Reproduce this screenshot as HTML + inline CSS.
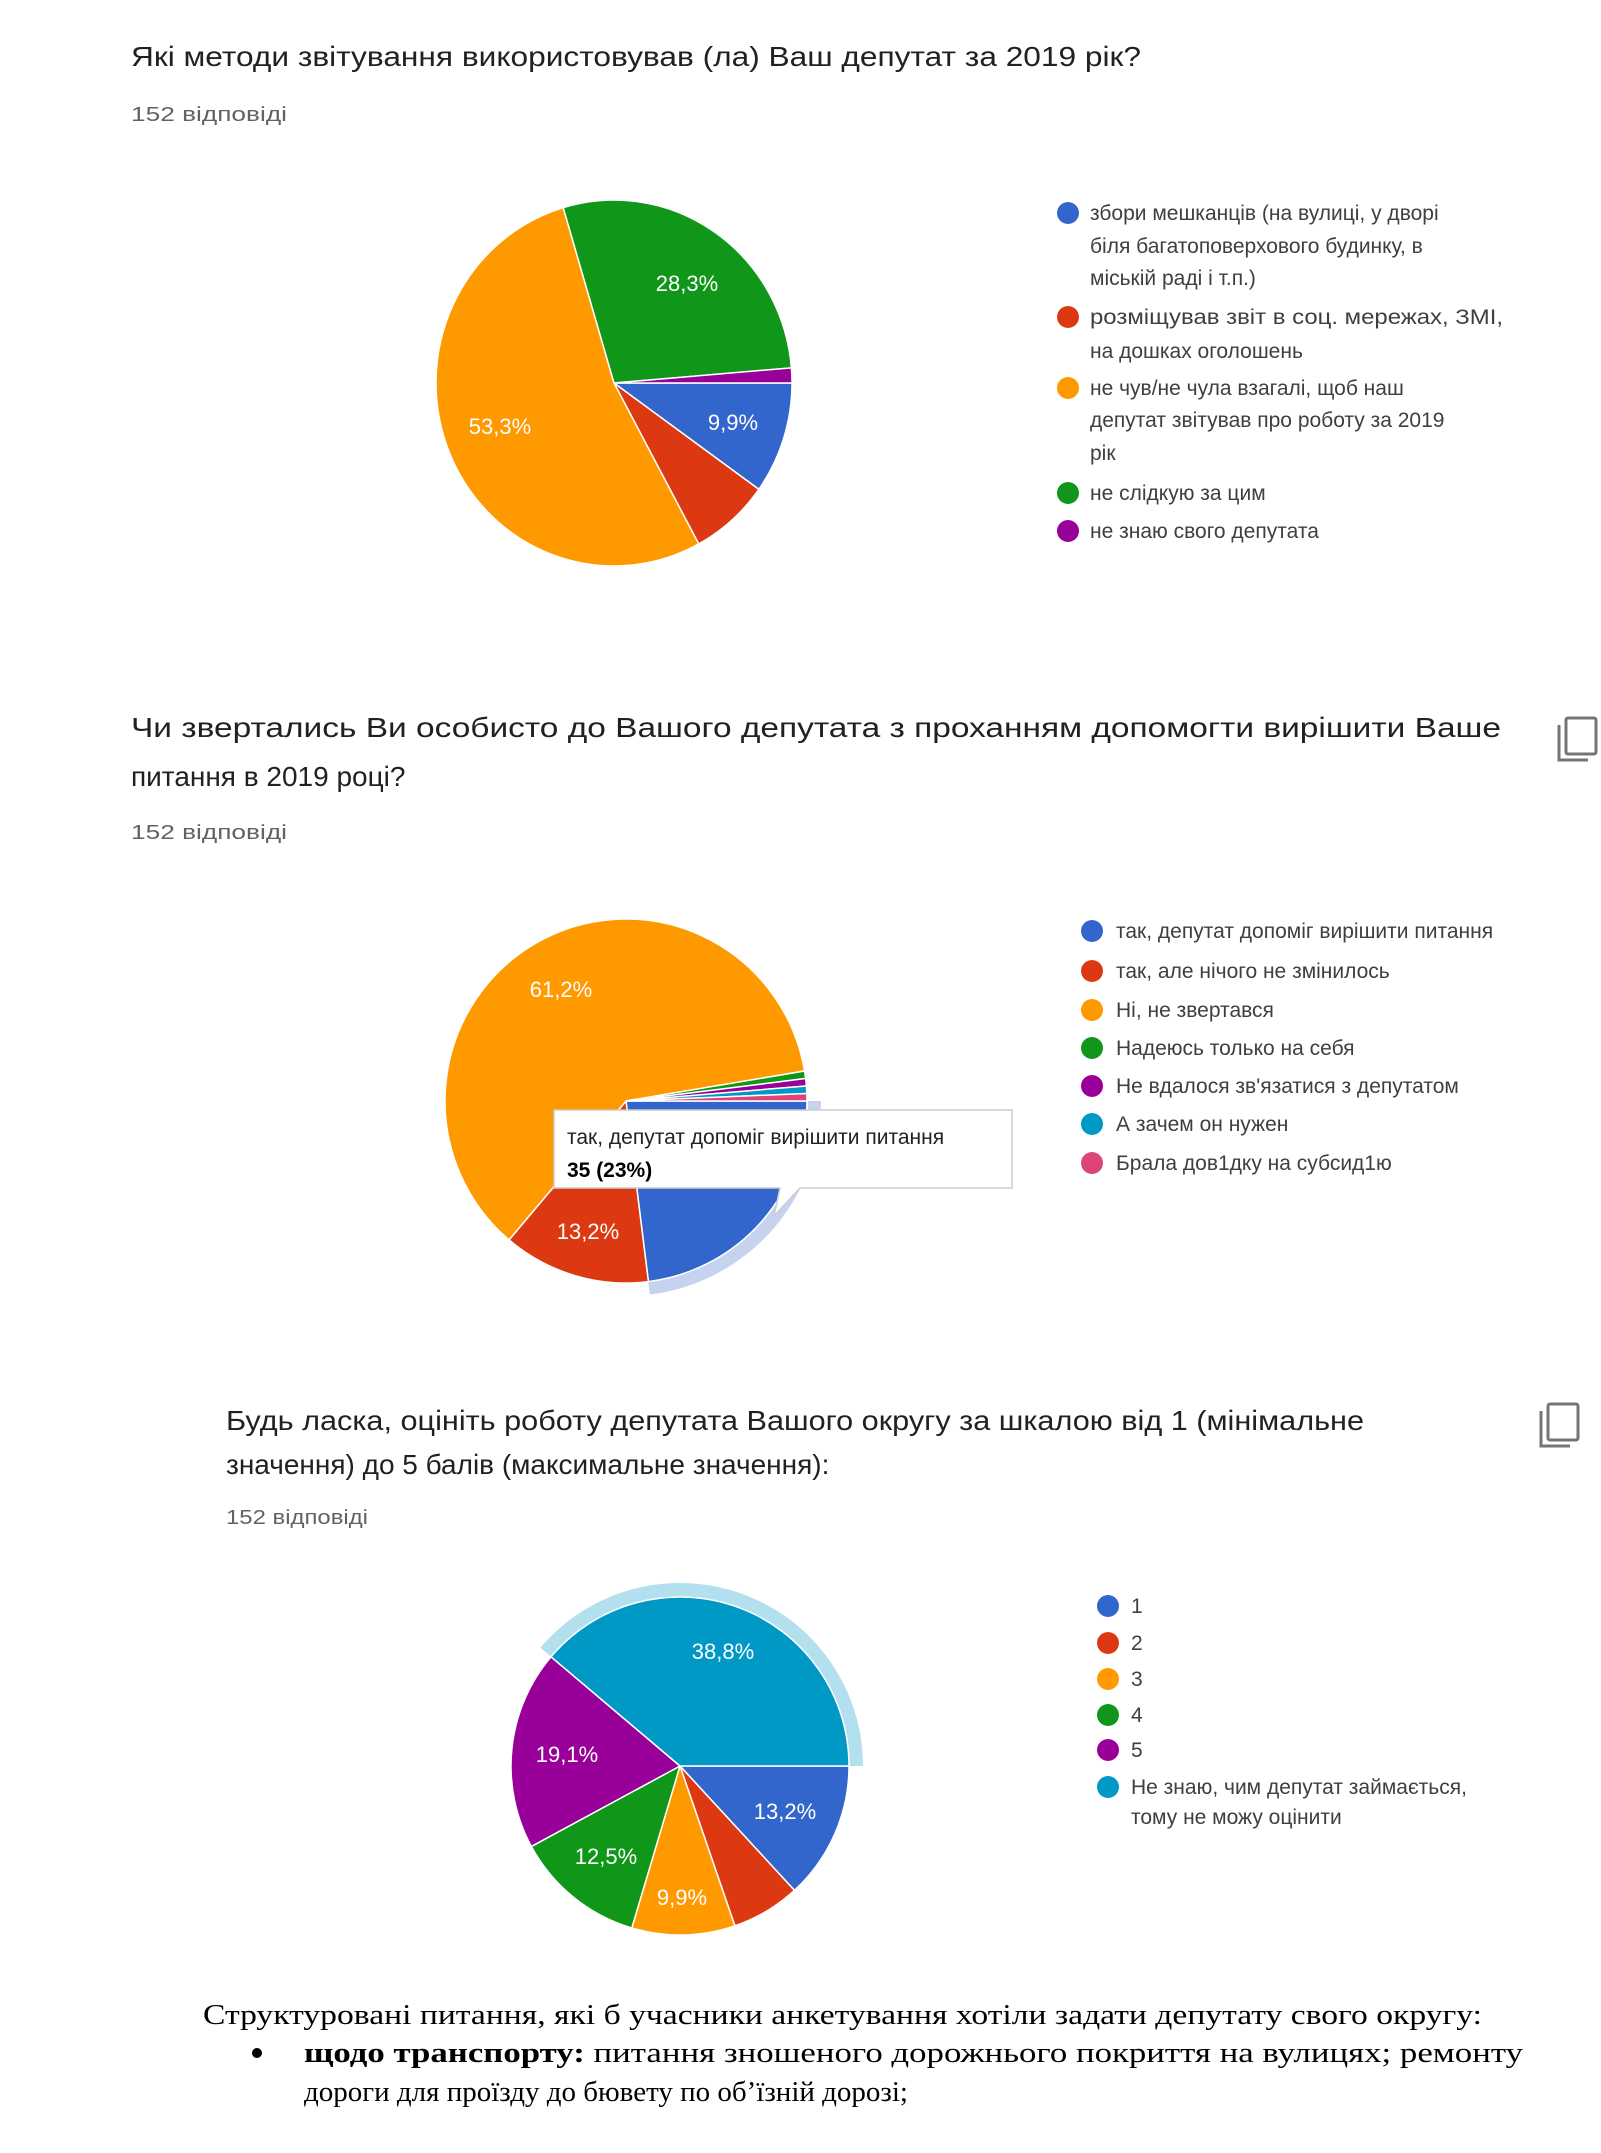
<!DOCTYPE html>
<html><head><meta charset="utf-8">
<style>
html,body{margin:0;padding:0;background:#fff;}
svg{display:block;font-family:"Liberation Sans",Arial,sans-serif;}
.t{font-size:28px;fill:#202124;}
.s{font-size:20px;fill:#5f6368;}
.l{font-size:21px;fill:#3c4043;}
.p{font-size:22px;fill:#fff;}
.r{font-family:"Liberation Serif","Times New Roman",serif;font-size:29px;fill:#000;}
</style></head>
<body>
<svg id="c" width="1601" height="2153" viewBox="0 0 1601 2153" xmlns="http://www.w3.org/2000/svg">
<rect width="1601" height="2153" fill="#fff"/>
<g id="pies"></g>

<!-- Chart 1 -->
<text class="t" x="131" y="66" textLength="1010" lengthAdjust="spacingAndGlyphs">Які методи звітування використовував (ла) Ваш депутат за 2019 рік?</text>
<text class="s" x="131" y="121" textLength="156" lengthAdjust="spacingAndGlyphs">152 відповіді</text>
<text class="p" x="687" y="291" text-anchor="middle">28,3%</text>
<text class="p" x="500" y="434" text-anchor="middle">53,3%</text>
<text class="p" x="733" y="430" text-anchor="middle">9,9%</text>
<circle cx="1068" cy="213" r="11" fill="#3366cc"/>
<circle cx="1068" cy="317" r="11" fill="#dc3912"/>
<circle cx="1068" cy="388" r="11" fill="#ff9900"/>
<circle cx="1068" cy="493" r="11" fill="#109618"/>
<circle cx="1068" cy="531" r="11" fill="#990099"/>
<text class="l" x="1090" y="220">збори мешканців (на вулиці, у дворі</text>
<text class="l" x="1090" y="253">біля багатоповерхового будинку, в</text>
<text class="l" x="1090" y="285">міській раді і т.п.)</text>
<text class="l" x="1090" y="324" textLength="413" lengthAdjust="spacingAndGlyphs">розміщував звіт в соц. мережах, ЗМІ,</text>
<text class="l" x="1090" y="358">на дошках оголошень</text>
<text class="l" x="1090" y="395">не чув/не чула взагалі, щоб наш</text>
<text class="l" x="1090" y="427">депутат звітував про роботу за 2019</text>
<text class="l" x="1090" y="460">рік</text>
<text class="l" x="1090" y="500">не слідкую за цим</text>
<text class="l" x="1090" y="538">не знаю свого депутата</text>

<!-- Chart 2 -->
<text class="t" x="131" y="737" textLength="1370" lengthAdjust="spacingAndGlyphs">Чи звертались Ви особисто до Вашого депутата з проханням допомогти вирішити Ваше</text>
<text class="t" x="131" y="786">питання в 2019 році?</text>
<text class="s" x="131" y="839" textLength="156" lengthAdjust="spacingAndGlyphs">152 відповіді</text>
<g fill="none" stroke="#757575" stroke-width="3">
<rect x="1566" y="718" width="30" height="36" rx="2"/>
<path d="M1559 725 V760 H1588"/>
</g>
<text class="p" x="561" y="997" text-anchor="middle">61,2%</text>
<text class="p" x="588" y="1239" text-anchor="middle">13,2%</text>
<circle cx="1092" cy="931" r="11" fill="#3366cc"/>
<circle cx="1092" cy="971" r="11" fill="#dc3912"/>
<circle cx="1092" cy="1010" r="11" fill="#ff9900"/>
<circle cx="1092" cy="1048" r="11" fill="#109618"/>
<circle cx="1092" cy="1086" r="11" fill="#990099"/>
<circle cx="1092" cy="1124" r="11" fill="#0099c6"/>
<circle cx="1092" cy="1163" r="11" fill="#dd4477"/>
<text class="l" x="1116" y="938">так, депутат допоміг вирішити питання</text>
<text class="l" x="1116" y="978">так, але нічого не змінилось</text>
<text class="l" x="1116" y="1017">Ні, не звертався</text>
<text class="l" x="1116" y="1055">Надеюсь только на себя</text>
<text class="l" x="1116" y="1093">Не вдалося зв'язатися з депутатом</text>
<text class="l" x="1116" y="1131">А зачем он нужен</text>
<text class="l" x="1116" y="1170">Брала дов1дку на субсид1ю</text>
<!-- tooltip -->
<g>
<path d="M554 1110 H1012 V1188 H800 L774 1216 L780 1188 H554 Z" fill="#fff" stroke="#ccc" stroke-width="1.5"/>
<text x="567" y="1144" style="font-size:21px;fill:#222">так, депутат допоміг вирішити питання</text>
<text x="567" y="1177" style="font-size:21px;fill:#000;font-weight:bold">35 (23%)</text>
</g>

<!-- Chart 3 -->
<text class="t" x="226" y="1430" textLength="1138" lengthAdjust="spacingAndGlyphs">Будь ласка, оцініть роботу депутата Вашого округу за шкалою від 1 (мінімальне</text>
<text class="t" x="226" y="1474">значення) до 5 балів (максимальне значення):</text>
<text class="s" x="226" y="1524" textLength="142" lengthAdjust="spacingAndGlyphs">152 відповіді</text>
<g fill="none" stroke="#757575" stroke-width="3">
<rect x="1548" y="1404" width="30" height="36" rx="2"/>
<path d="M1541 1411 V1446 H1570"/>
</g>
<text class="p" x="723" y="1659" text-anchor="middle">38,8%</text>
<text class="p" x="567" y="1762" text-anchor="middle">19,1%</text>
<text class="p" x="785" y="1819" text-anchor="middle">13,2%</text>
<text class="p" x="606" y="1864" text-anchor="middle">12,5%</text>
<text class="p" x="682" y="1905" text-anchor="middle">9,9%</text>
<circle cx="1108" cy="1606" r="11" fill="#3366cc"/>
<circle cx="1108" cy="1643" r="11" fill="#dc3912"/>
<circle cx="1108" cy="1679" r="11" fill="#ff9900"/>
<circle cx="1108" cy="1715" r="11" fill="#109618"/>
<circle cx="1108" cy="1750" r="11" fill="#990099"/>
<circle cx="1108" cy="1787" r="11" fill="#0099c6"/>
<text class="l" x="1131" y="1613">1</text>
<text class="l" x="1131" y="1650">2</text>
<text class="l" x="1131" y="1686">3</text>
<text class="l" x="1131" y="1722">4</text>
<text class="l" x="1131" y="1757">5</text>
<text class="l" x="1131" y="1794">Не знаю, чим депутат займається,</text>
<text class="l" x="1131" y="1824">тому не можу оцінити</text>

<!-- bottom text -->
<text class="r" x="203" y="2024" textLength="1279" lengthAdjust="spacingAndGlyphs">Структуровані питання, які б учасники анкетування хотіли задати депутату свого округу:</text>
<circle cx="257" cy="2053" r="5" fill="#000"/>
<text class="r" x="304" y="2062" textLength="1219" lengthAdjust="spacingAndGlyphs"><tspan font-weight="bold">щодо транспорту:</tspan> питання  зношеного  дорожнього  покриття  на  вулицях;  ремонту</text>
<text class="r" x="304" y="2101">дороги для проїзду до бювету по об’їзній дорозі;</text>
</svg>
<script>
(function(){
var NS="http://www.w3.org/2000/svg",g=document.getElementById("pies");
function pt(cx,cy,rx,ry,a){a=a*Math.PI/180;return [cx+rx*Math.cos(a),cy+ry*Math.sin(a)];}
function slice(cx,cy,rx,ry,a0,a1,col){
  var p0=pt(cx,cy,rx,ry,a0),p1=pt(cx,cy,rx,ry,a1),lg=(a1-a0)>180?1:0;
  var e=document.createElementNS(NS,"path");
  e.setAttribute("d","M"+cx+" "+cy+" L"+p0[0]+" "+p0[1]+" A"+rx+" "+ry+" 0 "+lg+" 1 "+p1[0]+" "+p1[1]+" Z");
  e.setAttribute("fill",col);e.setAttribute("stroke","#fff");e.setAttribute("stroke-width","1.5");
  g.appendChild(e);
}
function ring(cx,cy,r1,r2,a0,a1,col){
  var p0=pt(cx,cy,r2,r2,a0),p1=pt(cx,cy,r2,r2,a1),q1=pt(cx,cy,r1,r1,a1),q0=pt(cx,cy,r1,r1,a0),lg=(a1-a0)>180?1:0;
  var e=document.createElementNS(NS,"path");
  e.setAttribute("d","M"+p0[0]+" "+p0[1]+" A"+r2+" "+r2+" 0 "+lg+" 1 "+p1[0]+" "+p1[1]+" L"+q1[0]+" "+q1[1]+" A"+r1+" "+r1+" 0 "+lg+" 0 "+q0[0]+" "+q0[1]+" Z");
  e.setAttribute("fill",col);g.appendChild(e);
}
function pie(cx,cy,rx,ry,vals,cols){
  var t=vals.reduce(function(a,b){return a+b},0),a=0;
  for(var i=0;i<vals.length;i++){var d=vals[i]/t*360;slice(cx,cy,rx,ry,a,a+d,cols[i]);a+=d;}
}
var C=["#3366cc","#dc3912","#ff9900","#109618","#990099","#0099c6","#dd4477"];
pie(614,383,178,183,[15,11,81,43,2],C);
ring(626,1101,182,195,0,83,"#c6d3ef");
pie(626,1101,181,182,[35,20,93,1,1,1,1],C);
ring(680,1766,168,183,220.3,360,"#b2e0ee");
pie(680,1766,169,169,[20,10,15,19,29,59],C);
var tt=document.querySelector("path[d^='M554']").parentNode;
tt.parentNode.appendChild(tt);
})();
</script>
</body></html>
